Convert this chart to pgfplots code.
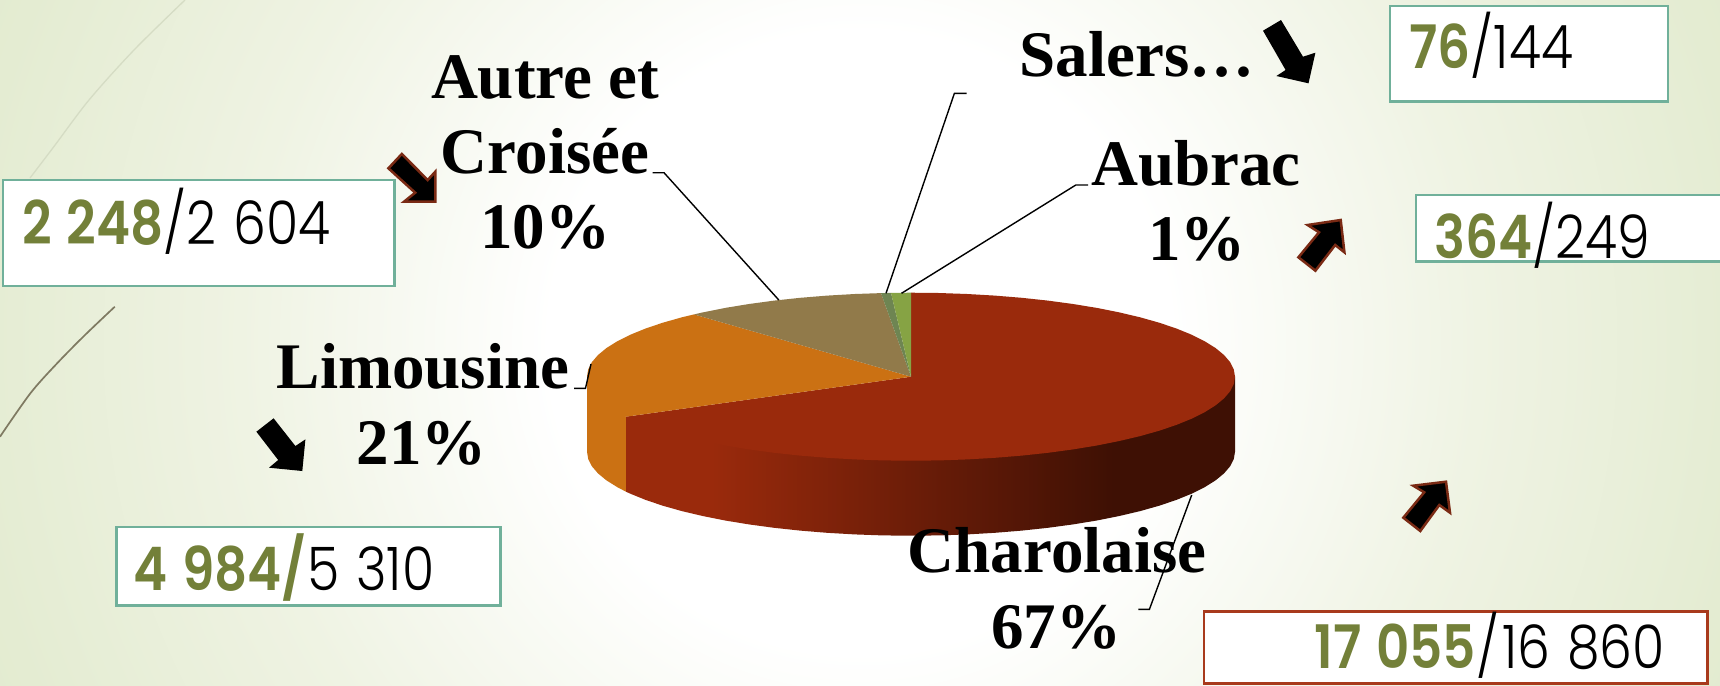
\documentclass[border=0pt]{standalone}
\usepackage{pgfplots}
\pgfplotsset{compat=1.18}
\usepackage{fontspec}
\setmainfont{Liberation Serif}
\newfontfamily\gl[FakeStretch=0.87,Numbers=Monospaced,WordSpace=1.2]{Poppins Light}
\newfontfamily\gb[FakeStretch=0.86,Numbers=Monospaced,WordSpace=1.2]{Poppins SemiBold}
\definecolor{edgeg}{HTML}{E4ECD2}
\definecolor{farg}{HTML}{DAE4C0}
\definecolor{midg}{HTML}{EFF3E3}
\definecolor{teal}{HTML}{70B09A}
\definecolor{olive}{HTML}{738039}
\definecolor{redb}{HTML}{A83A1C}
\definecolor{arrb}{HTML}{7A2A14}
\definecolor{chartop}{HTML}{9A2A0C}
\definecolor{chardark}{HTML}{3E1004}
\definecolor{limo}{HTML}{CB7113}
\definecolor{autre}{HTML}{917A4A}
\definecolor{salers}{HTML}{6E8552}
\definecolor{aubrac}{HTML}{86A344}
\definecolor{decoa}{HTML}{D5DCC4}
\definecolor{decob}{HTML}{7F7A62}
% a path's bounding box maps onto the central 50bp of the 100bp shading
\pgfdeclareradialshading{bgshade}{\pgfpoint{0bp}{0bp}}{color(0bp)=(white);color(9bp)=(white);color(18bp)=(midg);color(26bp)=(edgeg);color(38bp)=(farg);color(50bp)=(farg)}
\pgfdeclarehorizontalshading{wallshade}{100bp}{color(0bp)=(chartop);color(32bp)=(chartop);color(65bp)=(chardark);color(100bp)=(chardark)}
\newcommand{\lab}[1]{\fontsize{65}{75}\selectfont\bfseries #1}
\newcommand{\nums}[2]{\fontsize{60}{60}\selectfont{\gb\color{olive}#1}{\gl /#2}}
\begin{document}
\begin{tikzpicture}
\useasboundingbox (0,0) rectangle (1720pt,685pt);
\begin{axis}[
  scale only axis, width=1720pt, height=685pt,
  xmin=0, xmax=1720, ymin=0, ymax=685, y dir=reverse,
  axis lines=none,
  every node/.style={inner sep=0pt, outer sep=0pt},
]
% background
\addplot[draw=none, shading=bgshade] coordinates {(0,-517.5)(1720,-517.5)(1720,1202.5)(0,1202.5)} --cycle;
% decorative curves
\addplot[color=decoa, line width=1.3pt, smooth] coordinates {(185,0)(134,50)(89,100)(53.6,147)(30,178)};
\addplot[color=decob, line width=1.7pt, smooth] coordinates {(114.8,306.7)(85,335)(57.4,363)(30.6,393)(0,436.7)};
% pie walls
\addplot[draw=none, fill=limo] coordinates {(626,416.7)(587,376.7)(587,451.7)(588.2,459)(591.9,466.3)(598,473.4)(606.5,480.4)(617.4,487.2)(626,491.7)} --cycle;
\addplot[draw=none, shading=wallshade] coordinates {(1235,376.7)(1235,451.7)(1233.8,459)(1230.1,466.3)(1224,473.4)(1215.5,480.4)(1204.6,487.2)(1191.6,493.7)(1176.4,499.9)(1159.2,505.7)(1140.1,511.1)(1119.3,516)(1096.8,520.5)(1073,524.4)(1047.9,527.8)(1021.8,530.6)(994.9,532.8)(967.3,534.4)(939.2,535.4)(911,535.7)(882.8,535.4)(854.7,534.4)(827.1,532.8)(800.2,530.6)(774.1,527.8)(749,524.4)(725.2,520.5)(702.7,516)(681.9,511.1)(662.8,505.7)(645.6,499.9)(630.4,493.7)(626,491.7)(626,416.7)} --cycle;
% pie top: Charolaise 67
\addplot[draw=none, fill=chartop] coordinates {(911,376.7)(911,292.7)(939.2,293)(967.3,294)(994.9,295.6)(1021.8,297.8)(1047.9,300.6)(1073,304)(1096.8,307.9)(1119.3,312.4)(1140.1,317.3)(1159.2,322.7)(1176.4,328.5)(1191.6,334.7)(1204.6,341.2)(1215.5,348)(1224,355)(1230.1,362.1)(1233.8,369.4)(1235,376.7)(1233.8,384)(1230.1,391.3)(1224,398.4)(1215.5,405.4)(1204.6,412.2)(1191.6,418.7)(1176.4,424.9)(1159.2,430.7)(1140.1,436.1)(1119.3,441)(1096.8,445.5)(1073,449.4)(1047.9,452.8)(1021.8,455.6)(994.9,457.8)(967.3,459.4)(939.2,460.4)(911,460.7)(882.8,460.4)(854.7,459.4)(827.1,457.8)(800.2,455.6)(774.1,452.8)(749,449.4)(725.2,445.5)(702.7,441)(681.9,436.1)(662.8,430.7)(645.6,424.9)(630.4,418.7)(626,416.7)} --cycle;
% Limousine 21
\addplot[draw=none, fill=limo] coordinates {(911,376.7)(626,416.7)(617.4,412.2)(606.5,405.4)(598,398.4)(591.9,391.3)(588.2,384)(587,376.7)(588.2,369.4)(591.9,362.1)(598,355)(606.5,348)(617.4,341.2)(630.4,334.7)(645.6,328.5)(662.8,322.7)(681.9,317.3)(694,314.4)} --cycle;
% Autre 10
\addplot[draw=none, fill=autre] coordinates {(911,376.7)(694,314.4)(702.7,312.4)(725.2,307.9)(749,304)(774.1,300.6)(800.2,297.8)(827.1,295.6)(854.7,294)(881,293.1)} --cycle;
% Salers 1
\addplot[draw=none, fill=salers] coordinates {(911,376.7)(881,293.1)(891,292.9)} --cycle;
% Aubrac 1
\addplot[draw=none, fill=aubrac] coordinates {(911,376.7)(891,292.9)(911,292.7)} --cycle;
% boxes
\addplot[draw=teal, fill=white, line width=2.5pt] coordinates {(3,180)(394.5,180)(394.5,286)(3,286)} --cycle;
\addplot[draw=teal, fill=white, line width=2.5pt] coordinates {(1390,6)(1668,6)(1668,101.5)(1390,101.5)} --cycle;
\addplot[draw=teal, fill=white, line width=2.5pt] coordinates {(1416,195)(1730,195)(1730,261.5)(1416,261.5)} --cycle;
\addplot[draw=teal, fill=white, line width=2.5pt] coordinates {(116.5,527)(500.5,527)(500.5,605.5)(116.5,605.5)} --cycle;
\addplot[draw=redb, fill=white, line width=2.5pt] coordinates {(1204,611.5)(1707.5,611.5)(1707.5,683.5)(1204,683.5)} --cycle;
% arrows
\addplot[draw=arrb, fill=black, line width=2.5pt] coordinates {(401.8,154)(388.4,168.3)(415.2,192.7)(404,201.7)(435.3,201.7)(435.3,171.7)(427.7,180)} --cycle;
\addplot[draw=none, fill=black] coordinates {(1263,30.7)(1281,20)(1303,56.7)(1315.4,52.7)(1308.5,83.3)(1276.4,76)(1285.6,70)} --cycle;
\addplot[draw=arrb, fill=black, line width=2.5pt] coordinates {(1298.4,257.3)(1315.4,270.7)(1335.2,245)(1344.4,252.3)(1340.7,220)(1307.6,225)(1319,232.3)} --cycle;
\addplot[draw=none, fill=black] coordinates {(256.4,431.7)(273.6,418.3)(295.4,446)(305.4,439.3)(302.3,471)(269,467.7)(278.2,460)} --cycle;
\addplot[draw=arrb, fill=black, line width=2.5pt] coordinates {(1403.3,517.7)(1420.3,531)(1439.3,505)(1450,512.7)(1446,481.7)(1413.2,485.7)(1424.2,492.3)} --cycle;
% leader lines
\addplot[black, line width=1.4pt] coordinates {(652.7,172.7)(664,172.7)(778.8,300)};
\addplot[black, line width=1.4pt] coordinates {(886,293.3)(954.4,93.3)(966.5,93.3)};
\addplot[black, line width=1.4pt] coordinates {(901.5,293.3)(1075.8,185)(1088,185)};
\addplot[black, line width=1.4pt] coordinates {(574,388.3)(585.5,388.3)(591,364)};
\addplot[black, line width=1.4pt] coordinates {(1191.7,495)(1149.4,609.3)(1138.4,609.3)};
% labels
\node[anchor=base] at (axis cs:545,98) {\lab{Autre et}};
\node[anchor=base] at (axis cs:545,173) {\lab{Croisée}};
\node[anchor=base] at (axis cs:545,248) {\lab{10\%}};
\node[anchor=base] at (axis cs:1137,76) {\lab{Salers…}};
\node[anchor=base] at (axis cs:1196,185) {\lab{Aubrac}};
\node[anchor=base] at (axis cs:1197,260.7) {\lab{1\%}};
\node[anchor=base] at (axis cs:423,388) {\lab{Limousine}};
\node[anchor=base] at (axis cs:421.6,464) {\lab{21\%}};
\node[anchor=base] at (axis cs:1057,572) {\lab{Charolaise}};
\node[anchor=base] at (axis cs:1056,648.5) {\lab{67\%}};
% box text
\node[anchor=base west] at (axis cs:19,244) {\nums{2 248}{2 604}};
\node[anchor=base west] at (axis cs:1406,68) {\nums{76}{144}};
\node[anchor=base west] at (axis cs:1431,258) {\nums{364}{249}};
\node[anchor=base west] at (axis cs:130,590) {\fontsize{60}{60}\selectfont{\gb\color{olive}4 984/}{\gl 5 310}};
\node[anchor=base west] at (axis cs:1311,668) {\fontsize{60}{60}\selectfont{\gb\color{olive}17 055}{\gl /\hspace{3pt}16 860}};
\end{axis}
\end{tikzpicture}
\end{document}
